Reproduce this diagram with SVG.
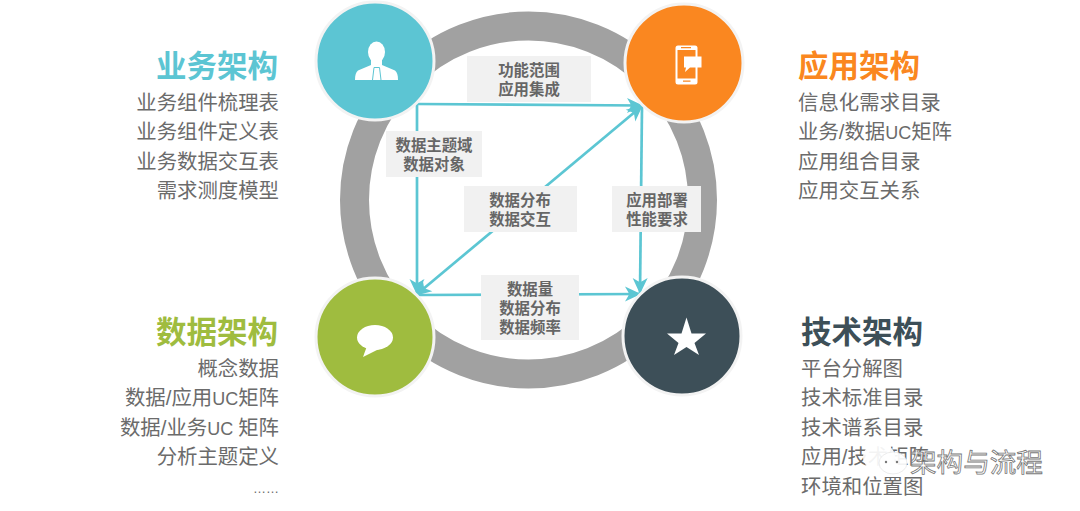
<svg xmlns="http://www.w3.org/2000/svg" width="1080" height="511" viewBox="0 0 1080 511">
<style>
text{font-family:"Liberation Sans","Noto Sans CJK SC",sans-serif}
.t{font-size:30.5px;font-weight:700}
.i{font-size:20.4px;fill:#6b6b6b}
.r{text-anchor:end}
.u{font-size:18px}
.c{font-size:15.4px;font-weight:700;fill:#666;text-anchor:middle}
.b{fill:#f1f1f1}
.n{stroke:#f3f3f3;stroke-width:3}
.l{fill:none;stroke:#5cc6d3;stroke-width:2.700;marker-end:url(#arrow)}
.w{fill:#fff}
</style>
<defs>
<marker id="arrow" markerUnits="userSpaceOnUse" viewBox="-17 -9 19 18" refX="0" refY="0" markerWidth="19" markerHeight="18" orient="auto">
<path d="M1 0L-15 -7.500L-11.500 -1.500V1.500L-15 7.500Z" fill="#5cc6d3"/>
</marker>
<marker id="arrow-start" markerUnits="userSpaceOnUse" viewBox="-17 -9 19 18" refX="0" refY="0" markerWidth="19" markerHeight="18" orient="auto-start-reverse">
<path d="M1 0L-15 -7.500L-11.500 -1.500V1.500L-15 7.500Z" fill="#5cc6d3"/>
</marker>
</defs>
<rect width="1080" height="511" fill="#fff"/>
<circle cx="528.500" cy="200" r="174" fill="none" stroke="#a1a1a1" stroke-width="29"/>
<g id="connectors">
<path class="l" d="M417 104L642 105.500"/>
<path class="l" d="M417 104L417 294"/>
<path class="l" d="M642 106L640 293"/>
<path class="l" d="M642 106L416 295" marker-start="url(#arrow-start)"/>
<path class="l" d="M418 295L640 294"/>
</g>
<g id="label-top"><rect class="b" x="467" y="56" width="124" height="46"/><text class="c" x="529" y="75.500">功能范围</text><text class="c" x="529" y="94.500">应用集成</text></g>
<g id="label-left"><rect class="b" x="386" y="131" width="96" height="46"/><text class="c" x="434" y="150.500">数据主题域</text><text class="c" x="434" y="169.500">数据对象</text></g>
<g id="label-center"><rect class="b" x="464" y="186" width="113" height="46"/><text class="c" x="520" y="205.500">数据分布</text><text class="c" x="520" y="224.500">数据交互</text></g>
<g id="label-right"><rect class="b" x="612" y="186" width="89" height="46"/><text class="c" x="657" y="205.500">应用部署</text><text class="c" x="657" y="224.500">性能要求</text></g>
<g id="label-bottom"><rect class="b" x="481" y="275" width="98" height="65"/><text class="c" x="530" y="294.500">数据量</text><text class="c" x="530" y="313.500">数据分布</text><text class="c" x="530" y="332.500">数据频率</text></g>
<g id="node-business">
<circle class="n" cx="375" cy="61" r="59" fill="#5cc5d3"/>
<ellipse class="w" cx="376.500" cy="52" rx="8.500" ry="10.500"/>
<path class="w" d="M371 58H382V65L395 70.500C397 72 398 75 398 80H355C355 75 356 72 358 70.500L371 65Z"/>
<path d="M374 67.500L372.500 80M379.500 67.500L381 80M374 67.500H379.500" stroke="#5cc5d3" stroke-width="1" fill="none"/>
</g>
<g id="node-application">
<circle class="n" cx="684" cy="63" r="59" fill="#fa8720"/>
<rect class="w" x="675.500" y="45.500" width="22" height="39" rx="2.500"/>
<rect x="677.500" y="50" width="18" height="28.500" fill="#fa8720"/>
<path d="M681 47.700H691M683 81.200H690.500" stroke="#fa8720" stroke-width="1.200" fill="none"/>
<path class="w" d="M684 56.500H701.500V67.500H690L685 72L686 67.500H684Z"/>
</g>
<g id="node-data">
<circle class="n" cx="375" cy="337" r="59" fill="#9fbc3f"/>
<ellipse class="w" cx="375" cy="337.500" rx="18" ry="12.500"/>
<path class="w" d="M367 346L363 357L379 349Z"/>
</g>
<g id="node-technology">
<circle class="n" cx="682" cy="336" r="59" fill="#3d4f58"/>
<path class="w" d="M686.500 317.500L691.500 333.500H706L694.500 343L699 355L686.500 347L674 355L678.500 343L667 333.500H681.500Z"/>
</g>
<text class="t r" x="278" y="77" fill="#5cc5d3">业务架构</text>
<g class="i r"><text x="279" y="110">业务组件梳理表</text><text x="279" y="139">业务组件定义表</text><text x="279" y="169">业务数据交互表</text><text x="279" y="198">需求测度模型</text></g>
<text class="t" x="798" y="77" fill="#fa8720">应用架构</text>
<g class="i"><text x="798" y="110">信息化需求目录</text><text x="798" y="139">业务/数据<tspan class="u">UC</tspan>矩阵</text><text x="798" y="169">应用组合目录</text><text x="798" y="198">应用交互关系</text></g>
<text class="t r" x="278" y="343" fill="#9fbc3f">数据架构</text>
<g class="i r"><text x="279" y="376">概念数据</text><text x="279" y="405">数据/应用<tspan class="u">UC</tspan>矩阵</text><text x="279" y="435">数据/业务<tspan class="u">UC </tspan>矩阵</text><text x="279" y="464">分析主题定义</text><text x="279" y="493" font-size="13">……</text></g>
<text class="t" x="801" y="343" fill="#3d4f58">技术架构</text>
<g class="i"><text x="801" y="376">平台分解图</text><text x="801" y="405">技术标准目录</text><text x="801" y="435">技术谱系目录</text><text x="801" y="464">应用/技术矩阵</text><text x="801" y="494">环境和位置图</text></g>
<g id="watermark">
<ellipse cx="879" cy="457" rx="16" ry="14" fill="#fff" opacity=".92"/>
<ellipse cx="893" cy="463" rx="14" ry="11" fill="#fff" stroke="#ddd" stroke-width=".6" opacity=".92"/>
<circle cx="886" cy="462" r="1.200" fill="#777"/><circle cx="897" cy="462" r="1.200" fill="#777"/>
<text x="910" y="472" font-size="26.600" fill="#fff" stroke="#777" stroke-width=".8">架构与流程</text>
</g>
</svg>
